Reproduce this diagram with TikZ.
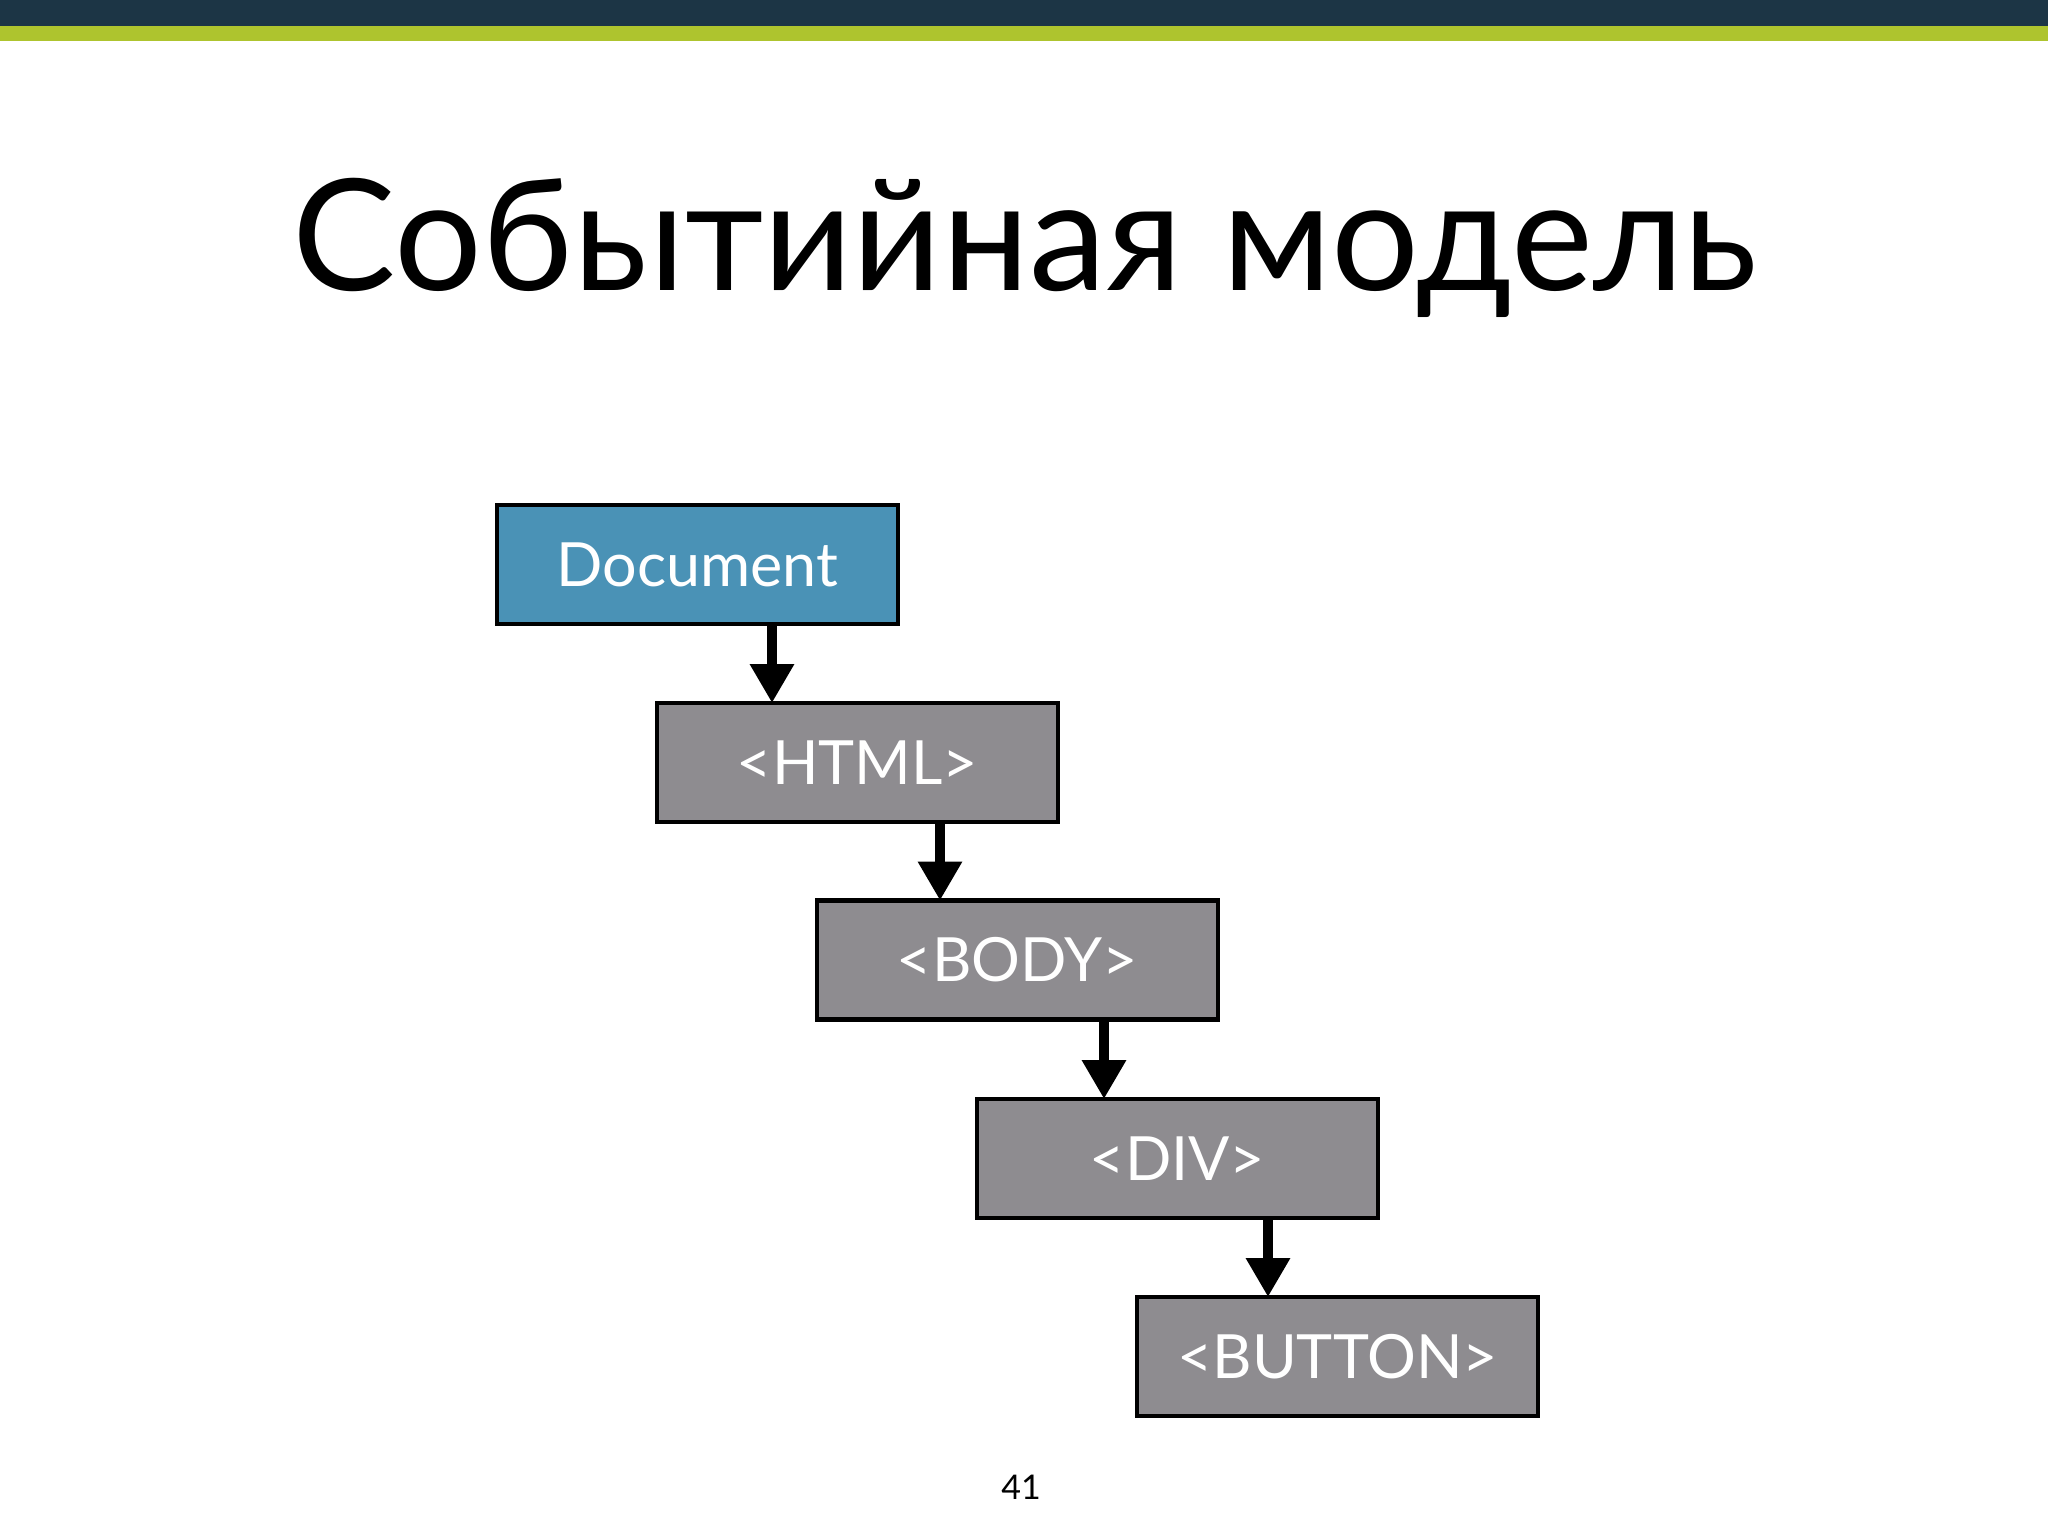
\documentclass[tikz,border=0pt]{standalone}
\usepackage{fontspec}
\setmainfont{Lato}
\usetikzlibrary{arrows.meta}
\definecolor{bardark}{HTML}{1C3545}
\definecolor{bargreen}{HTML}{AEC42E}
\definecolor{docblue}{HTML}{4A92B6}
\definecolor{boxgray}{HTML}{8E8C90}
\begin{document}
\begin{tikzpicture}[x=1pt,y=-1pt,
  box/.style={draw=black, line width=4.5pt, minimum width=401pt, minimum height=119pt,
    inner sep=0pt, outer sep=0pt, font=\fontsize{61}{72}\selectfont, text=white},
  graybox/.style={box, fill=boxgray},
  link/.style={line width=9.5pt, -{Triangle[width=42pt,length=39pt]}}]
\fill[white] (0,0) rectangle (2048,1536);
\useasboundingbox (0,0) rectangle (2048,1536);
\fill[bardark] (0,0) rectangle (2048,26);
\fill[bargreen] (0,26) rectangle (2048,41);
\node[anchor=base, font=\fontsize{155}{190}\selectfont, inner sep=0pt] (title) at (1025,290) {Событийная модель};
\node[box, fill=docblue] (doc) at (697.5,564.5) {Document};
\node[graybox] (html) at (857.5,762.5) {<HTML>};
\node[graybox] (body) at (1017.5,960) {<BODY>};
\node[graybox] (div) at (1177.5,1158.5) {<DIV>};
\node[graybox] (button) at (1337.5,1356.5) {<BUTTON>};
\draw[link] ([xshift=275pt]doc.south west) -- ([xshift=275pt]doc.south west |- html.north);
\draw[link] ([xshift=283pt]html.south west) -- ([xshift=283pt]html.south west |- body.north);
\draw[link] ([xshift=287pt]body.south west) -- ([xshift=287pt]body.south west |- div.north);
\draw[link] ([xshift=291pt]div.south west) -- ([xshift=291pt]div.south west |- button.north);
\node[font=\fontsize{34}{40}\selectfont, inner sep=0pt] (pagenum) at (1021,1487) {41};
\end{tikzpicture}
\end{document}
